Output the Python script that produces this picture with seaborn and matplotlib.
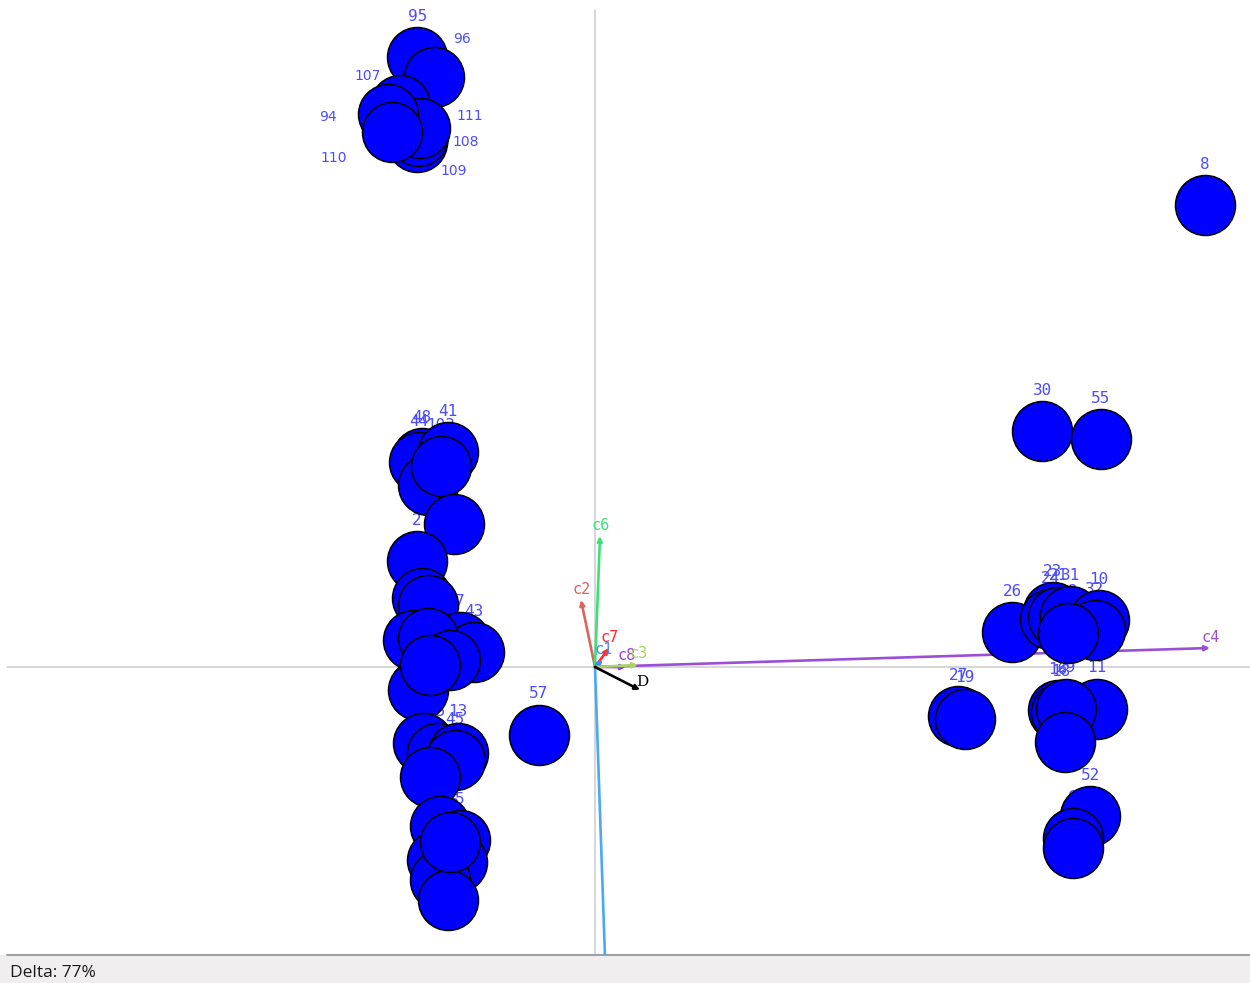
import matplotlib
matplotlib.use("Agg")
import matplotlib.pyplot as plt
import pandas as pd
import seaborn as sns

# Sample scores (first two components)
sample_ids = ["95", "96", "107", "109", "108", "111", "94", "110",
              "48", "44", "41", "42", "103", "4", "2", "37", "47", "7", "43",
              "38", "39", "40", "46", "34", "33", "35", "13", "45", "36",
              "15", "5", "14", "12", "17", "20", "25",
              "57", "8", "30", "55",
              "26", "23", "24", "21", "31", "10", "32", "28",
              "27", "19", "11", "16", "18", "29", "9",
              "52", "6", "53"]
score_x = [-1.78, -1.61, -1.95, -1.78, -1.77, -1.75, -2.07, -2.03,
           -1.73, -1.76, -1.47, -1.67, -1.54, -1.41, -1.78, -1.73, -1.67, -1.35, -1.21,
           -1.82, -1.67, -1.45, -1.77, -1.65, -1.72, -1.58, -1.37, -1.40, -1.65,
           -1.55, -1.35, -1.58, -1.38, -1.55, -1.47, -1.45,
           -0.56, 6.10, 4.47, 5.06,
           4.17, 4.58, 4.55, 4.63, 4.75, 5.04, 5.00, 4.73,
           3.63, 3.70, 5.02, 4.63, 4.66, 4.71, 4.70,
           4.95, 4.78, 4.78]
score_y = [6.10, 5.90, 5.62, 5.25, 5.31, 5.39, 5.53, 5.35,
           2.09, 2.05, 2.15, 1.82, 2.01, 1.43, 1.06, 0.69, 0.62, 0.25, 0.15,
           0.27, 0.29, 0.07, -0.23, 0.02, -0.76, -0.86, -0.86, -0.93, -1.10,
           -1.59, -1.73, -1.93, -1.95, -2.13, -2.33, -1.75,
           -0.68, 4.62, 2.36, 2.28,
           0.35, 0.55, 0.48, 0.50, 0.51, 0.47, 0.37, 0.34,
           -0.49, -0.52, -0.42, -0.43, -0.45, -0.42, -0.75,
           -1.49, -1.71, -1.81]

# Variable loadings
var_names = ["c5", "c4", "c2", "c6", "c7", "c1", "c8", "c3", "D"]
var_x = [0.11, 6.15, -0.14, 0.05, 0.14, 0.08, 0.31, 0.43, 0.45]
var_y = [-3.20, 0.19, 0.67, 1.31, 0.19, 0.07, 0.00, 0.02, -0.23]
var_colors = ["#4aa8f5", "#9b4fd6", "#d9655f", "#3ee07a", "#ff2a2a",
              "#4f86f7", "#9b3fe0", "#a8d65a", "#000000"]

status_text = "Delta: 77%"

# Label placement for the crowded top group; others sit just above the point
label_offsets = {"95": (0.01, 0.41), "96": (0.28, 0.38), "107": (-0.32, 0.29),
                 "94": (-0.60, -0.03), "111": (0.50, 0.12), "108": (0.48, -0.06),
                 "110": (-0.58, -0.26), "109": (0.37, -0.29)}
sans_labels = set(label_offsets) - {"95"}

scores = pd.DataFrame({"id": sample_ids, "x": score_x, "y": score_y})

sns.set_theme(style="white")
plt.rcParams["font.family"] = ["DejaVu Sans"]

fig = plt.figure(figsize=(12.5, 9.83), dpi=100)
fig.patch.set_facecolor("#f0eeee")
ax = fig.add_axes([0, 28 / 983, 1, 955 / 983])
ax.set_facecolor("white")
ax.set_xlim(-5.95, 6.55)
ax.set_ylim(-2.88, 6.67)
for s in ax.spines.values():
    s.set_visible(False)
ax.set_xticks([])
ax.set_yticks([])

# Origin cross
ax.plot([-5.88, 6.55], [0, 0], color="#cccccc", lw=1.1, zorder=1)
ax.plot([0, 0], [-2.88, 6.57], color="#cccccc", lw=1.1, zorder=1)
ax.plot([-5.88, 6.55], [-2.875, -2.875], color="#a0a0a0", lw=1.5, zorder=1,
        clip_on=False)

# Loading vectors
for name, vx, vy, col in zip(var_names, var_x, var_y, var_colors):
    if name == "c5":
        ax.plot([0, vx], [0, vy], color=col, lw=1.9, zorder=1.5)
        continue
    ax.annotate("", xy=(vx, vy), xytext=(0, 0),
                arrowprops=dict(arrowstyle="-|>", color=col, lw=1.9,
                                mutation_scale=7, shrinkA=0, shrinkB=0),
                zorder=1.5)
    if name == "D":
        ax.text(vx + 0.02, vy + 0.08, name, color=col, fontsize=11,
                family="DejaVu Serif", ha="center", va="center", zorder=1.6)
    else:
        ax.text(vx + 0.01, vy + 0.11, name, color=col, fontsize=11,
                family="DejaVu Sans Mono", ha="center", va="center", zorder=1.6)

# Sample labels (under the discs, as in the crowded groups)
for sid, px, py in zip(sample_ids, score_x, score_y):
    dx, dy = label_offsets.get(sid, (0.0, 0.41))
    fam = "DejaVu Sans" if sid in sans_labels else "DejaVu Sans Mono"
    fs = 10 if sid in sans_labels else 11.5
    ax.text(px + dx, py + dy, sid, color="#4b4bff", fontsize=fs, family=fam,
            ha="center", va="center", zorder=2)

sns.scatterplot(data=scores, x="x", y="y", ax=ax, s=1866, color="#0000ff",
                edgecolor="black", linewidth=1.1, zorder=3, legend=False)
ax.set_xlabel("")
ax.set_ylabel("")

fig.text(10 / 1250, 1 - 973 / 983, status_text, fontsize=12.5, family="Open Sans",
         color="#1a1a1a", ha="left", va="center")

fig.savefig("out.png", dpi=100, facecolor=fig.get_facecolor())
